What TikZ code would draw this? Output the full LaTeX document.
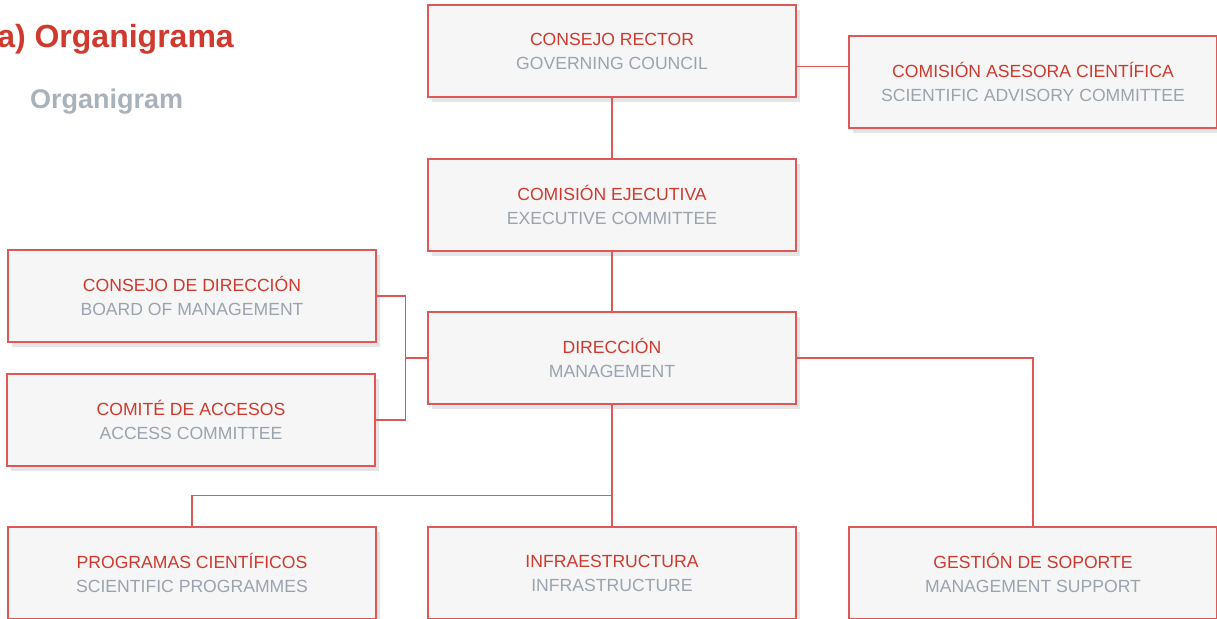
\documentclass[tikz,border=0pt]{standalone}
\usepackage{fontspec}
\setmainfont{Liberation Sans}
\usetikzlibrary{positioning, shadows, calc}

\definecolor{orgred}{HTML}{D0392E}
\definecolor{orggrey}{HTML}{9AA3AE}
\definecolor{orgline}{HTML}{DC5957}
\definecolor{orgfill}{HTML}{F6F6F6}

\newcommand{\orgtext}[2]{{\color{orgred}#1}\\{\color{orggrey}#2}}

\begin{document}
\begin{tikzpicture}[
    x=1pt,
    y=-1pt,
    on grid,
    unit/.style={draw=orgline, line width=1.1pt, fill=orgfill,
        minimum width=368pt, minimum height=92pt, align=center,
        font=\fontsize{17.6}{24}\selectfont,
        drop shadow={shadow xshift=4pt, shadow yshift=-5pt,
            opacity=0.1, fill=black}},
    link/.style={draw=orgline, line width=1.1pt},
    heading/.style={inner sep=0pt, font=\fontsize{32}{36}\selectfont\bfseries, text=orgred},
    subheading/.style={inner sep=0pt, font=\fontsize{27}{30}\selectfont\bfseries, text=orggrey!85},
]
    \useasboundingbox (0,0) rectangle (1217,618);
    \clip (0,0) rectangle (1217,618);

    \node[heading,    anchor=base east] (ttl) at (234,48)  {a) Organigrama};
    \node[subheading, anchor=base west] (sub) at (30,108)  {Organigram};

    \node[unit]                                  (cr)  at (612,51) {\orgtext{CONSEJO RECTOR}{GOVERNING COUNCIL}};
    \node[unit, below right=31pt and 421pt of cr]  (cac) {\orgtext{COMISIÓN ASESORA CIENTÍFICA}{SCIENTIFIC ADVISORY COMMITTEE}};
    \node[unit, below=154pt of cr]               (ce)  {\orgtext{COMISIÓN EJECUTIVA}{EXECUTIVE COMMITTEE}};
    \node[unit, below=153pt of ce]               (dir) {\orgtext{DIRECCIÓN}{MANAGEMENT}};
    \node[unit, above left=62pt and 420pt of dir]  (cd)  {\orgtext{CONSEJO DE DIRECCIÓN}{BOARD OF MANAGEMENT}};
    \node[unit, below left=62pt and 421pt of dir]  (ca)  {\orgtext{COMITÉ DE ACCESOS}{ACCESS COMMITTEE}};
    \node[unit, below=215pt of dir]              (inf) {\orgtext{INFRAESTRUCTURA}{INFRASTRUCTURE}};
    \node[unit, left=420pt of inf]               (pc)  {\orgtext{PROGRAMAS CIENTÍFICOS}{SCIENTIFIC PROGRAMMES}};
    \node[unit, right=421pt of inf]              (gs)  {\orgtext{GESTIÓN DE SOPORTE}{MANAGEMENT SUPPORT}};

    \coordinate (crcac) at ($(cr.east)!.5!(cac.west)$);
    \coordinate (brk)   at ([xshift=29pt]cd.east);
    \coordinate (fork)  at ([yshift=31pt]inf.north);

    \draw[link] (cr.east |- crcac) -- (cac.west |- crcac);
    \draw[link] (cr.south)  -- (ce.north);
    \draw[link] (ce.south)  -- (dir.north);
    \draw[link] (cd.east)   -- (brk) |- (ca.east);
    \draw[link] (dir.west)  -- (dir.west -| brk);
    \draw[link] (dir.east)  -| (gs.north);
    \draw[link] (dir.south) -- (inf.north);
    \draw[link] (fork)      -| (pc.north);
\end{tikzpicture}
\end{document}
